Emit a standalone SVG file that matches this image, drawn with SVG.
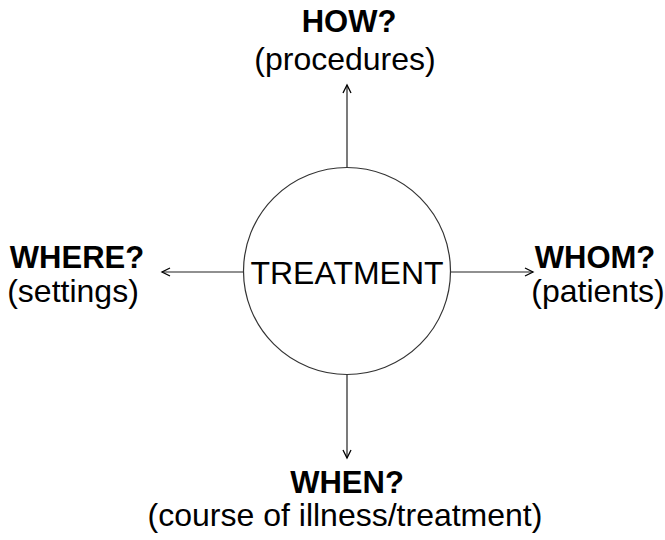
<svg xmlns="http://www.w3.org/2000/svg" width="665" height="540" viewBox="0 0 665 540">
  <style>
    .q { font-family: "Liberation Sans", Arial, sans-serif; font-weight: bold; font-size: 31px; fill: #000; text-anchor: middle; }
    .t { font-family: "Liberation Sans", Arial, sans-serif; font-size: 32px; fill: #000; text-anchor: middle; }
    .conn { stroke: #222; stroke-width: 1.2; fill: none; marker-end: url(#arrow); }
  </style>
  <defs>
    <marker id="arrow" markerUnits="userSpaceOnUse" markerWidth="12" markerHeight="12" refX="9" refY="5" orient="auto">
      <path d="M1,1 L9,5 L1,9" fill="none" stroke="#000" stroke-width="1.3"/>
    </marker>
  </defs>
  <rect width="665" height="540" fill="#fff"/>

  <g id="connectors">
    <line class="conn" x1="347" y1="167" x2="347" y2="85"/>
    <line class="conn" x1="347" y1="375" x2="347" y2="458"/>
    <line class="conn" x1="244" y1="272" x2="162" y2="272"/>
    <line class="conn" x1="451" y1="272" x2="533" y2="272"/>
  </g>

  <g id="treatment">
    <circle cx="347" cy="271" r="103.5" fill="#fff" stroke="#333" stroke-width="1.2"/>
    <text class="t" x="347" y="284">TREATMENT</text>
  </g>

  <g id="how">
    <text class="q" x="349" y="32">HOW?</text>
    <text class="t" x="345" y="70">(procedures)</text>
  </g>

  <g id="where">
    <text class="q" x="77" y="268">WHERE?</text>
    <text class="t" x="73" y="302">(settings)</text>
  </g>

  <g id="whom">
    <text class="q" x="595" y="268">WHOM?</text>
    <text class="t" x="598" y="302">(patients)</text>
  </g>

  <g id="when">
    <text class="q" x="347" y="493">WHEN?</text>
    <text class="t" x="345" y="526">(course of illness/treatment)</text>
  </g>
</svg>
